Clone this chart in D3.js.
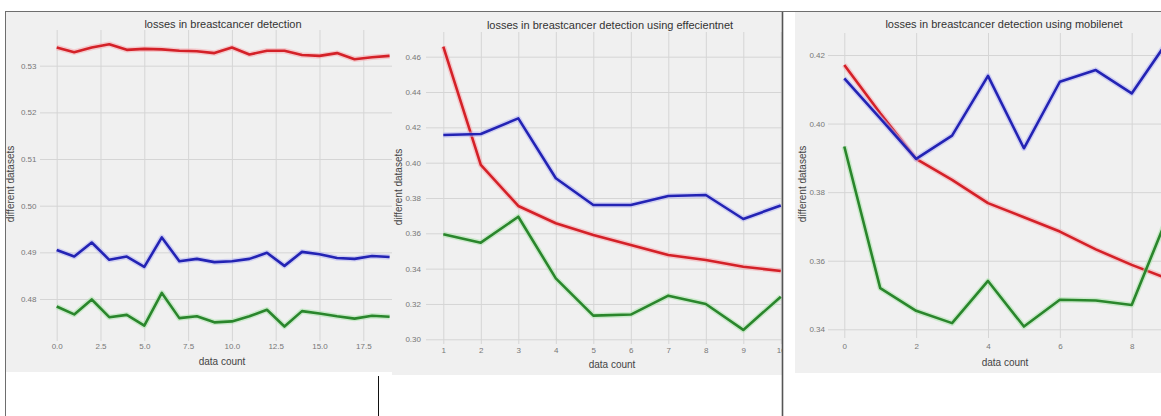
<!DOCTYPE html>
<html>
<head>
<meta charset="utf-8">
<script src="https://cdn.jsdelivr.net/npm/d3@7"></script>
<style>
  body { margin: 0; background: #ffffff; }
  svg { display: block; }
  text { font-family: "Liberation Sans", Arial, sans-serif; }
</style>
</head>
<body>
<svg id="chart" width="1161" height="416"></svg>
<script>
// ---- losses per data count, plain model ----
const basicX = d3.range(0, 20);
const basicRed = [0.5339, 0.5329, 0.5339, 0.5346, 0.5334, 0.5336, 0.5335, 0.5332, 0.5331, 0.5327,
                  0.5339, 0.5324, 0.5332, 0.5332, 0.5323, 0.5321, 0.5327, 0.5314, 0.5318, 0.5321];
const basicBlue = [0.4905, 0.4891, 0.4921, 0.4884, 0.4891, 0.4869, 0.4932, 0.4881, 0.4886, 0.4879,
                   0.4881, 0.4886, 0.4899, 0.4871, 0.4901, 0.4896, 0.4888, 0.4886, 0.4892, 0.4890];
const basicGreen = [0.4784, 0.4767, 0.4799, 0.4761, 0.4766, 0.4743, 0.4813, 0.4759, 0.4763, 0.4750,
                    0.4752, 0.4763, 0.4777, 0.4741, 0.4774, 0.4769, 0.4763, 0.4758, 0.4764, 0.4762];
const basicXTicks = [0, 2.5, 5, 7.5, 10, 12.5, 15, 17.5];
const basicYTicks = [0.48, 0.49, 0.50, 0.51, 0.52, 0.53];

// ---- losses per data count, EfficientNet ----
const effX = d3.range(1, 11);
const effRed = [0.4657, 0.3987, 0.3755, 0.3657, 0.3591, 0.3534, 0.3477, 0.3449, 0.3411, 0.3387];
const effBlue = [0.4157, 0.4162, 0.4251, 0.3912, 0.3760, 0.3760, 0.3811, 0.3817, 0.3681, 0.3758];
const effGreen = [0.3595, 0.3547, 0.3694, 0.3345, 0.3134, 0.3140, 0.3247, 0.3200, 0.3053, 0.3241];
const effXTicks = d3.range(1, 11);
const effYTicks = [0.30, 0.32, 0.34, 0.36, 0.38, 0.40, 0.42, 0.44, 0.46];

// ---- losses per data count, MobileNet ----
const mobX = d3.range(0, 10);
const mobRed = [0.4171, 0.4030, 0.3897, 0.3836, 0.3768, 0.3727, 0.3685, 0.3633, 0.3588, 0.3548];
const mobBlue = [0.4132, 0.4015, 0.3897, 0.3965, 0.4139, 0.3928, 0.4122, 0.4156, 0.4088, 0.4240];
const mobGreen = [0.3933, 0.3520, 0.3454, 0.3418, 0.3541, 0.3408, 0.3486, 0.3484, 0.3471, 0.3729];
const mobXTicks = [0, 2, 4, 6, 8];
const mobYTicks = [0.34, 0.36, 0.38, 0.40, 0.42];

const titles = [
  "losses in breastcancer detection",
  "losses in breastcancer detection using effecientnet",
  "losses in breastcancer detection using mobilenet"
];
const xLabel = "data count";
const yLabel = "different datasets";

const seriesColors = { red: "#d42128", blue: "#2323b4", green: "#2a862c" };
const haloColors = { red: "#f6a9ae", blue: "#b4b4f2", green: "#ace4ac" };

// layout of each panel (pixel geometry only)
const panels = [
  {
    x: basicX, series: { red: basicRed, blue: basicBlue, green: basicGreen },
    xTicks: basicXTicks, yTicks: basicYTicks, xFmt: d3.format(".1f"), yFmt: d3.format(".2f"),
    bg: [6, 12, 392, 372],
    xDom: [0, 17.5], xRng: [56.7, 363.3],
    yDom: [0.48, 0.53], yRng: [299, 65.7],
    plot: [40, 30, 410, 341],
    xPad: 2.5, yPad: 3.5,
    title: [223, 28], xlab: [222, 365], ylab: [10, 184]
  },
  {
    x: effX, series: { red: effRed, blue: effBlue, green: effGreen },
    xTicks: effXTicks, yTicks: effYTicks, xFmt: d3.format("d"), yFmt: d3.format(".2f"),
    bg: [392, 12, 782, 375],
    xDom: [1, 10], xRng: [443.3, 780.8],
    yDom: [0.30, 0.46], yRng: [339.3, 56.7],
    plot: [426, 32, 800, 344],
    xPad: 3.5, yPad: 5,
    title: [610, 29], xlab: [612, 368], ylab: [398, 187]
  },
  {
    x: mobX, series: { red: mobRed, blue: mobBlue, green: mobGreen },
    xTicks: mobXTicks, yTicks: mobYTicks, xFmt: d3.format("d"), yFmt: d3.format(".2f"),
    bg: [795, 12, 1161, 373],
    xDom: [0, 8], xRng: [844.3, 1131.7],
    yDom: [0.34, 0.42], yRng: [329.3, 55],
    plot: [828, 33, 1180, 338],
    xPad: 5.5, yPad: 3,
    title: [1004, 27.5], xlab: [1005, 365.5], ylab: [802, 184]
  }
];

const svg = d3.select("#chart");
const defs = svg.append("defs");

panels.forEach((p, i) => {
  const [bx0, by0, bx1, by1] = p.bg;
  const [px0, py0, px1, py1] = p.plot;

  defs.append("clipPath").attr("id", "clip" + i)
    .append("rect").attr("x", bx0).attr("y", by0)
    .attr("width", bx1 - bx0).attr("height", by1 - by0);

  const g = svg.append("g").attr("clip-path", `url(#clip${i})`);

  g.append("rect").attr("x", bx0).attr("y", by0)
    .attr("width", bx1 - bx0).attr("height", by1 - by0)
    .attr("fill", "#f0f0f0");

  const x = d3.scaleLinear().domain(p.xDom).range(p.xRng);
  const y = d3.scaleLinear().domain(p.yDom).range(p.yRng);

  // x grid + tick labels
  const xAxis = g.append("g").attr("transform", `translate(0,${py1})`)
    .call(d3.axisBottom(x).tickValues(p.xTicks).tickFormat(p.xFmt)
      .tickSize(-(py1 - py0)).tickPadding(p.xPad));
  // y grid + tick labels
  const yAxis = g.append("g").attr("transform", `translate(${px0},0)`)
    .call(d3.axisLeft(y).tickValues(p.yTicks).tickFormat(p.yFmt)
      .tickSize(-(px1 - px0)).tickPadding(p.yPad));

  [xAxis, yAxis].forEach(ax => {
    ax.select(".domain").remove();
    ax.selectAll(".tick line").attr("stroke", "#d5d5d5").attr("stroke-width", 1);
    ax.selectAll(".tick text").attr("fill", "#777")
      .style("font-size", "8px").style("font-family", "'Liberation Sans', Arial, sans-serif");
  });

  const line = d3.line().x((d, k) => x(p.x[k])).y(d => y(d));

  ["red", "blue", "green"].forEach(key => {
    g.append("path").datum(p.series[key])
      .attr("d", line).attr("fill", "none")
      .attr("stroke", haloColors[key]).attr("stroke-width", 5.5)
      .attr("stroke-opacity", 0.55).attr("stroke-linejoin", "round");
    g.append("path").datum(p.series[key])
      .attr("d", line).attr("fill", "none")
      .attr("stroke", seriesColors[key]).attr("stroke-width", 2.6)
      .attr("stroke-linejoin", "round");
  });

  g.append("text").attr("x", p.title[0]).attr("y", p.title[1])
    .attr("text-anchor", "middle").attr("fill", "#333")
    .style("font-size", "11px").text(titles[i]);

  g.append("text").attr("x", p.xlab[0]).attr("y", p.xlab[1])
    .attr("text-anchor", "middle").attr("fill", "#444")
    .style("font-size", "10px").text(xLabel);

  g.append("text")
    .attr("transform", `translate(${p.ylab[0]},${p.ylab[1]}) rotate(-90)`)
    .attr("text-anchor", "middle").attr("dominant-baseline", "central")
    .attr("fill", "#444").style("font-size", "10px").text(yLabel);
});

// frame lines around the panels
const frame = svg.append("g").attr("fill", "none");
frame.append("line").attr("x1", 5).attr("x2", 1161).attr("y1", 11.5).attr("y2", 11.5)
  .attr("stroke", "#6e6e6e").attr("stroke-width", 1);
frame.append("line").attr("x1", 5.5).attr("x2", 5.5).attr("y1", 11).attr("y2", 416)
  .attr("stroke", "#6e6e6e").attr("stroke-width", 1);
frame.append("line").attr("x1", 378.5).attr("x2", 378.5).attr("y1", 376).attr("y2", 416)
  .attr("stroke", "#111").attr("stroke-width", 1);
frame.append("line").attr("x1", 782.5).attr("x2", 782.5).attr("y1", 12).attr("y2", 416)
  .attr("stroke", "#555").attr("stroke-width", 1.6);
</script>
</body>
</html>
